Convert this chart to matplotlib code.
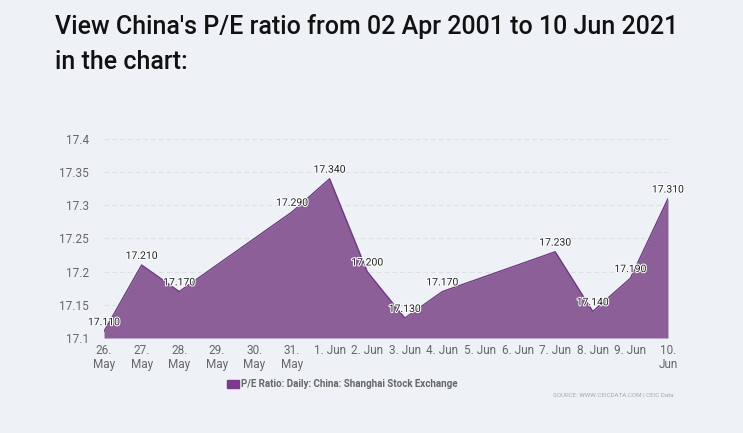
import numpy as np
import matplotlib.pyplot as plt
import matplotlib.dates as mdates
import matplotlib.patheffects as pe
from matplotlib.patches import Rectangle

plt.rcParams['font.family'] = ['Roboto', 'DejaVu Sans']

dates = np.array(['2021-05-26', '2021-05-27', '2021-05-28', '2021-05-31', '2021-06-01',
                  '2021-06-02', '2021-06-03', '2021-06-04', '2021-06-07', '2021-06-08',
                  '2021-06-09', '2021-06-10'], dtype='datetime64[D]')
pe_ratio = [17.110, 17.210, 17.170, 17.290, 17.340, 17.200,
            17.130, 17.170, 17.230, 17.140, 17.190, 17.310]
tick_days = np.arange(np.datetime64('2021-05-26'), np.datetime64('2021-06-11'))
tick_labels = ['26.\nMay', '27.\nMay', '28.\nMay', '29.\nMay', '30.\nMay', '31.\nMay',
               '1. Jun', '2. Jun', '3. Jun', '4. Jun', '5. Jun', '6. Jun',
               '7. Jun', '8. Jun', '9. Jun', '10.\nJun']
y_ticks = [17.1, 17.15, 17.2, 17.25, 17.3, 17.35, 17.4]
y_tick_labels = ['17.1', '17.15', '17.2', '17.25', '17.3', '17.35', '17.4']
series_name = 'P/E Ratio: Daily: China: Shanghai Stock Exchange'

bg = '#eef2f6'
fig = plt.figure(figsize=(7.43, 4.33), dpi=100, facecolor=bg)
ax = fig.add_axes([0.140, 0.2194, 0.759, 0.4596], facecolor=bg)

x = mdates.date2num(dates.astype('datetime64[ms]').astype(object))
ax.fill_between(x, 17.1, pe_ratio, color='#8c5f99', lw=0)
ax.plot(x, pe_ratio, color='#6e3a80', lw=1)

for xi, yi in zip(x, pe_ratio):
    ax.annotate(f'{yi:.3f}', (xi, yi), xytext=(0, 3), textcoords='offset points',
                ha='center', va='bottom', fontsize=7.5, color='#222222',
                path_effects=[pe.withStroke(linewidth=1.5, foreground='white')])

ax.set_ylim(17.1, 17.4)
ax.set_xlim(x[0], x[-1])
ax.set_yticks(y_ticks)
ax.set_yticklabels(y_tick_labels)
tx = mdates.date2num(tick_days.astype('datetime64[ms]').astype(object))
ax.set_xticks(tx)
ax.set_xticklabels(tick_labels)
ax.tick_params(axis='both', length=0, labelsize=8.5, labelcolor='#666666')
ax.tick_params(axis='y', pad=11)
ax.tick_params(axis='x', pad=4)
for lbl in ax.get_xticklabels():
    lbl.set_linespacing(1.1)
    lbl.set_verticalalignment('top')
ax.grid(axis='y', color='#dcdfe3', ls=(0, (4, 3)), lw=0.8)
ax.set_axisbelow(True)
for s in ax.spines.values():
    s.set_visible(False)

fig.text(0.074, 0.898, "View China's P/E ratio from 02 Apr 2001 to 10 Jun 2021\nin the chart:",
         fontsize=18, fontweight='medium', color='#111111', va='center', linespacing=1.55)

fig.patches.append(Rectangle((0.306, 0.105), 0.015, 0.018, transform=fig.transFigure,
                             color='#7b3a8c'))
fig.text(0.325, 0.114, series_name, fontsize=7, fontweight='bold', color='#666666', va='center')
fig.text(0.906, 0.088, 'SOURCE: WWW.CEICDATA.COM | CEIC Data', fontsize=4.5,
         color='#aaaaaa', ha='right', va='center')

fig.savefig('out.png', dpi=100, facecolor=bg)
